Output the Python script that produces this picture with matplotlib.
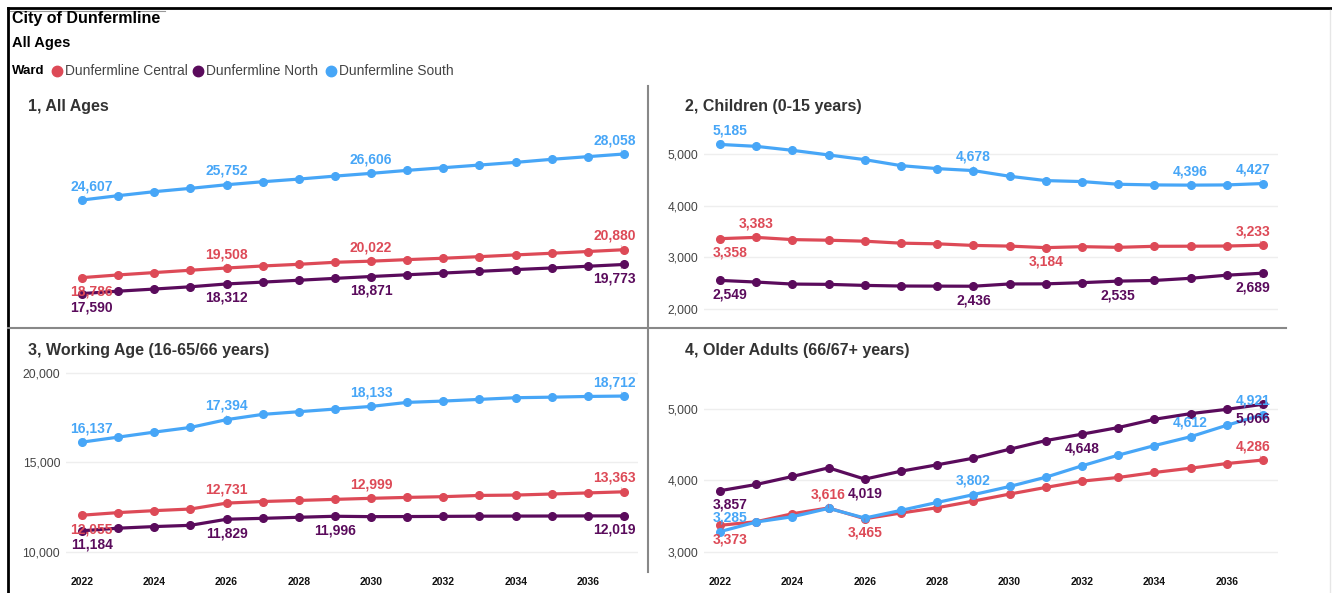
import matplotlib.pyplot as plt
from matplotlib.lines import Line2D

plt.rcParams['font.family'] = ['Liberation Sans', 'DejaVu Sans']

# data
years = [2022, 2023, 2024, 2025, 2026, 2027, 2028, 2029,
         2030, 2031, 2032, 2033, 2034, 2035, 2036, 2037]
wards = ["Dunfermline Central", "Dunfermline North", "Dunfermline South"]

all_central = [18786, 18988, 19165, 19341, 19508, 19660, 19786, 19937,
               20022, 20137, 20240, 20360, 20490, 20615, 20745, 20880]
all_north = [17590, 17770, 17930, 18100, 18312, 18450, 18590, 18730,
             18871, 19000, 19130, 19260, 19390, 19510, 19640, 19773]
all_south = [24607, 24932, 25232, 25482, 25752, 25977, 26177, 26400,
             26606, 26830, 27030, 27230, 27430, 27660, 27860, 28058]

children_central = [3358, 3383, 3340, 3328, 3309, 3271, 3258, 3227,
                    3214, 3184, 3203, 3190, 3210, 3212, 3215, 3233]
children_north = [2549, 2517, 2478, 2472, 2452, 2440, 2438, 2436,
                  2480, 2482, 2505, 2535, 2548, 2590, 2650, 2689]
children_south = [5185, 5148, 5071, 4981, 4890, 4774, 4716, 4678,
                  4568, 4484, 4465, 4413, 4400, 4396, 4400, 4427]

working_central = [12055, 12200, 12310, 12400, 12731, 12820, 12880, 12940,
                   12999, 13050, 13090, 13160, 13180, 13240, 13300, 13363]
working_north = [11184, 11330, 11420, 11490, 11829, 11880, 11940, 11996,
                 11975, 11980, 11990, 12000, 12005, 12010, 12015, 12019]
working_south = [16137, 16417, 16697, 16958, 17394, 17688, 17837, 17986,
                 18133, 18358, 18432, 18526, 18619, 18650, 18690, 18712]

older_central = [3373, 3423, 3535, 3616, 3465, 3545, 3619, 3712,
                 3810, 3903, 3991, 4042, 4112, 4172, 4237, 4286]
older_north = [3857, 3944, 4056, 4177, 4019, 4130, 4219, 4312,
               4437, 4558, 4648, 4740, 4856, 4935, 4995, 5066]
older_south = [3285, 3419, 3493, 3610, 3475, 3582, 3693, 3802,
               3916, 4046, 4205, 4354, 4488, 4612, 4772, 4921]

colors = ["#DD4A57", "#5A0B5C", "#47A6F7"]

W, H = 1332, 593


def px_box(x0, y0, x1, y1):
    # pixel box (top-left origin) -> figure fraction rect
    return [x0 / W, 1 - y1 / H, (x1 - x0) / W, (y1 - y0) / H]


def fx(x):
    return x / W


def fy(y):
    return 1 - y / H


fig = plt.figure(figsize=(W / 100, H / 100), dpi=100)

# panels: title, series, labelled points (index, +1 above / -1 below), box, ylim, yticks, show x
panels = [
    ("1, All Ages", [all_central, all_north, all_south],
     [[(0, -1), (4, 1), (8, 1), (15, 1)],
      [(0, -1), (4, -1), (8, -1), (15, -1)],
      [(0, 1), (4, 1), (8, 1), (15, 1)]],
     (65.7, 140, 638.5, 310), (16359, 29108), [], False),
    ("2, Children (0-15 years)", [children_central, children_north, children_south],
     [[(0, -1), (1, 1), (9, -1), (15, 1)],
      [(0, -1), (7, -1), (11, -1), (15, -1)],
      [(0, 1), (7, 1), (13, 1), (15, 1)]],
     (703.7, 140, 1277.5, 318), (1820, 5271), [2000, 3000, 4000, 5000], False),
    ("3, Working Age (16-65/66 years)", [working_central, working_north, working_south],
     [[(0, -1), (4, 1), (8, 1), (15, 1)],
      [(0, -1), (4, -1), (7, -1), (15, -1)],
      [(0, 1), (4, 1), (8, 1), (15, 1)]],
     (65.7, 365, 638.5, 562), (9441, 20447), [10000, 15000, 20000], True),
    ("4, Older Adults (66/67+ years)", [older_central, older_north, older_south],
     [[(0, -1), (3, 1), (4, -1), (15, 1)],
      [(0, -1), (4, -1), (10, -1), (15, -1)],
      [(0, 1), (7, 1), (13, 1), (15, 1)]],
     (703.7, 365, 1277.5, 562), (2860, 5615), [3000, 4000, 5000], True),
]

for title, series, labels, box, ylim, yticks, showx in panels:
    ax = fig.add_axes(px_box(*box))
    for vals, lab, c in zip(series, labels, colors):
        ax.plot(years, vals, color=c, lw=2.3, marker='o', ms=5.5,
                solid_capstyle='round', zorder=3)
        for i, d in lab:
            dx = 7 if i == 0 else (-7 if i == len(years) - 1 else 0)
            ax.annotate(f"{vals[i]:,}", (years[i], vals[i]),
                        xytext=(dx, 10 * d), textcoords='offset points',
                        ha='center', va='center', fontsize=10, fontweight='bold',
                        color=c, zorder=5,
                        arrowprops=dict(arrowstyle='-', color=c, lw=0.6,
                                        alpha=0.5, shrinkA=5, shrinkB=3))
    ax.set_xlim(2021.55, 2037.4)
    ax.set_ylim(*ylim)
    for s in ax.spines.values():
        s.set_visible(False)
    ax.set_yticks(yticks)
    ax.set_yticklabels([f"{t:,}" for t in yticks], fontsize=8.7, color="#444444")
    for t in yticks:
        ax.axhline(t, color="#eeeeee", lw=1, zorder=1)
    ax.tick_params(axis='y', length=0, pad=4)
    if showx:
        ax.set_xticks(years[::2])
        ax.set_xticklabels([str(y) for y in years[::2]], fontsize=7.5,
                           fontweight='bold', color="#111111")
        ax.tick_params(axis='x', length=0, pad=11)
    else:
        ax.set_xticks([])
    tx = 28 if box[0] < 300 else 685
    ty = 107 if box[1] < 300 else 351
    fig.text(fx(tx), fy(ty), title, fontsize=11.5, fontweight='bold',
             color="#333333", va='center', ha='left')

# header
fig.text(fx(12), fy(19), "City of Dunfermline", fontsize=11.5, fontweight='bold',
         color="black", va='center')
fig.text(fx(12), fy(43), "All Ages", fontsize=10.5, fontweight='bold',
         color="black", va='center')
fig.text(fx(12), fy(71), "Ward", fontsize=9.5, fontweight='bold', color="black", va='center')
for xc, name, c in zip([57, 198, 331], wards, colors):
    fig.add_artist(Line2D([fx(xc)], [fy(71)], marker='o', ms=7.5, color=c, lw=0))
    fig.text(fx(xc + 8), fy(71), name, fontsize=9.9, color="#444444", va='center')

# frame and dividers
fig.add_artist(Line2D([fx(8), fx(1332)], [fy(8), fy(8)], color='black', lw=2))
fig.add_artist(Line2D([fx(8), fx(8)], [fy(8), fy(593)], color='black', lw=2))
fig.add_artist(Line2D([fx(10), fx(165)], [fy(11), fy(11)], color='#999999', lw=0.8))
fig.add_artist(Line2D([fx(1330), fx(1330)], [fy(10), fy(593)], color='#e6e6e6', lw=1))
fig.add_artist(Line2D([fx(648), fx(648)], [fy(86), fy(572)], color='#888888', lw=1.5))
fig.add_artist(Line2D([fx(8), fx(1286)], [fy(328), fy(328)], color='#888888', lw=1.5))

fig.savefig("out.png", dpi=100)
